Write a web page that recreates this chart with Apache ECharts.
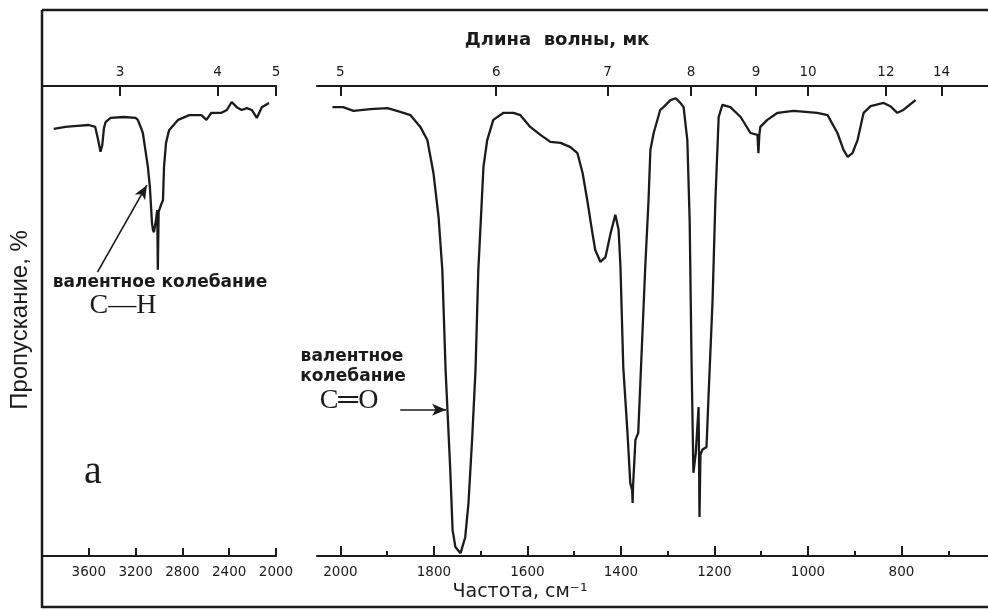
<!DOCTYPE html>
<html>
<head>
<meta charset="utf-8">
<script src="https://cdn.jsdelivr.net/npm/echarts@6/dist/echarts.min.js"></script>
<style>
html,body{margin:0;padding:0;background:#fff;}
#chart{width:988px;height:610px;}
</style>
</head>
<body>
<div id="chart"></div>
<script>
// ---- Data (wavenumber, cm^-1  /  transmission, %) ----
const nuLeft = [3900,3800,3700,3600,3545,3520,3500,3485,3470,3457,3414,3300,3200,3181,3160,3138,3095,3078,3060,3052,3043,3026,3015,3010,3008,3003,2983,2966,2957,2940,2914,2836,2741,2638,2595,2552,2466,2420,2379,2336,2293,2250,2207,2164,2121,2060];
const tLeft  = [90.9,91.3,91.5,91.7,91.3,88.5,86.0,87.4,91.1,92.3,93.2,93.4,93.2,92.8,91.5,90.0,82.8,78.5,70.9,69.4,68.9,71.5,73.6,60.9,60.9,73.2,74.7,75.7,82.8,87.9,90.6,92.8,93.8,93.8,92.8,94.3,94.3,94.9,96.6,95.5,94.9,95.3,94.9,93.2,95.5,96.4];

const nuRight = [2017,1994,1972,1936,1899,1872,1850,1829,1814,1801,1790,1782,1775,1771,1765,1760,1754,1743,1733,1726,1718,1711,1705,1701,1694,1686,1673,1651,1630,1615,1594,1572,1551,1529,1508,1493,1482,1472,1461,1455,1444,1433,1422,1412,1405,1401,1395,1386,1380,1376,1375,1374,1369,1363,1354,1348,1341,1337,1330,1316,1309,1294,1283,1273,1266,1258,1253,1251,1249,1245,1240,1236,1234,1233,1232,1230,1226,1217,1213,1204,1198,1191,1183,1166,1144,1123,1108,1106,1104,1102,1087,1065,1031,980,958,937,924,915,905,894,881,866,838,824,809,796,770];
const tRight  = [95.5,95.5,94.7,95.1,95.3,94.5,93.8,91.3,88.5,81.5,72.1,60.9,39.6,31.1,18.3,5.5,1.9,0.6,4.0,11.3,25.3,39.6,60.9,68.7,82.8,88.5,92.8,94.3,94.3,93.8,91.3,89.6,88.1,87.9,87.0,85.7,81.5,75.7,68.7,65.1,62.6,63.6,68.7,72.6,69.4,61.5,40.2,26.2,15.5,14.0,11.3,15.1,24.7,26.2,47.4,61.5,75.7,86.4,90.0,94.9,95.5,97.0,97.4,96.4,95.5,88.5,71.3,56.4,41.5,17.7,21.9,21.5,31.7,21.5,8.3,21.5,22.6,23.2,33.2,54.5,75.7,93.4,96.0,95.5,93.4,90.0,89.6,85.7,89.6,91.3,92.8,94.3,94.7,94.3,93.8,90.0,86.4,84.9,85.7,88.5,94.3,95.7,96.4,95.7,94.3,94.9,97.0];

// tick labels
const freqLeftTicks = [3600,3200,2800,2400,2000];
const freqRightMajor = [2000,1800,1600,1400,1200,1000,800];
const freqRightMinor = [1900,1700,1500,1300,1100,900,700];
const waveLeft = [3,4,5];           // micrometres
const waveRight = [5,6,7,8,9,10,12,14];

// annotation arrows (data coordinates)
const arrowCH = [[3526,60.4],[3104,78.9]];
const arrowCO = [[1872,31.1],[1774,31.1]];

const ink = '#1b1b1b';
const toNu = l => 10000 / l;

function pairs(xs, ys){ return xs.map((x,i)=>[x, ys[i]]); }

const chart = echarts.init(document.getElementById('chart'), null, {renderer:'canvas'});

const tickLabel = {color: ink, fontFamily: 'DejaVu Sans', fontSize: 13.5};

const option = {
  animation: false,
  backgroundColor: '#fff',
  grid: [
    {left: 42, top: 86, width: 234, height: 470},
    {left: 317, top: 86, width: 671, height: 470},
    {left: 317, top: 86, width: 671, height: 470}
  ],
  xAxis: [
    { // left bottom (frequency)
      gridIndex: 0, type: 'value', position: 'bottom', inverse: true, min: 2000, max: 4000,
      axisLine: {show: true, onZero: false, lineStyle: {color: ink, width: 2}},
      axisTick: {show: true, inside: true, length: 8, customValues: freqLeftTicks, lineStyle: {color: ink, width: 2}},
      axisLabel: Object.assign({margin: 9, customValues: freqLeftTicks, formatter: v => String(v)}, tickLabel),
      splitLine: {show: false}
    },
    { // left top (wavelength)
      gridIndex: 0, type: 'value', position: 'top', inverse: true, min: 2000, max: 4000,
      axisLine: {show: true, onZero: false, lineStyle: {color: ink, width: 2}},
      axisTick: {show: true, inside: true, length: 10, customValues: waveLeft.map(toNu), lineStyle: {color: ink, width: 2}},
      axisLabel: Object.assign({margin: 7, customValues: waveLeft.map(toNu), formatter: v => String(Math.round(10000 / v))}, tickLabel),
      splitLine: {show: false}
    },
    { // right bottom (frequency) major
      gridIndex: 1, type: 'value', position: 'bottom', inverse: true, min: 615, max: 2050,
      axisLine: {show: true, onZero: false, lineStyle: {color: ink, width: 2}},
      axisTick: {show: true, inside: true, length: 10, customValues: freqRightMajor, lineStyle: {color: ink, width: 2}},
      axisLabel: Object.assign({margin: 9, customValues: freqRightMajor, formatter: v => String(v)}, tickLabel),
      splitLine: {show: false}
    },
    { // right top (wavelength)
      gridIndex: 1, type: 'value', position: 'top', inverse: true, min: 615, max: 2050,
      axisLine: {show: true, onZero: false, lineStyle: {color: ink, width: 2}},
      axisTick: {show: true, inside: true, length: 10, customValues: waveRight.map(toNu), lineStyle: {color: ink, width: 2}},
      axisLabel: Object.assign({margin: 7, customValues: waveRight.map(toNu), formatter: v => String(Math.round(10000 / v))}, tickLabel),
      splitLine: {show: false}
    },
    { // right bottom minor ticks
      gridIndex: 2, type: 'value', position: 'bottom', inverse: true, min: 615, max: 2050,
      axisLine: {show: false, onZero: false},
      axisTick: {show: true, inside: true, length: 5, customValues: freqRightMinor, lineStyle: {color: ink, width: 2}},
      axisLabel: {show: false},
      splitLine: {show: false}
    }
  ],
  yAxis: [
    {gridIndex: 0, type: 'value', min: 0, max: 100, show: false},
    {gridIndex: 1, type: 'value', min: 0, max: 100, show: false},
    {gridIndex: 2, type: 'value', min: 0, max: 100, show: false}
  ],
  series: [
    {
      type: 'line', xAxisIndex: 0, yAxisIndex: 0, data: pairs(nuLeft, tLeft),
      showSymbol: false, lineStyle: {color: ink, width: 2.3}, silent: true,
      markLine: {
        silent: true, symbol: ['none', 'arrow'], symbolSize: [9, 14],
        lineStyle: {color: ink, width: 1.6, type: 'solid'}, label: {show: false},
        data: [[{coord: arrowCH[0]}, {coord: arrowCH[1]}]]
      }
    },
    {
      type: 'line', xAxisIndex: 2, yAxisIndex: 1, data: pairs(nuRight, tRight),
      showSymbol: false, lineStyle: {color: ink, width: 2.3}, silent: true,
      markLine: {
        silent: true, symbol: ['none', 'arrow'], symbolSize: [9, 14],
        lineStyle: {color: ink, width: 1.6, type: 'solid'}, label: {show: false},
        data: [[{coord: arrowCO[0]}, {coord: arrowCO[1]}]]
      }
    }
  ],
  graphic: [
    // frame
    {type: 'line', shape: {x1: 42, y1: 10, x2: 988, y2: 10}, style: {stroke: ink, lineWidth: 2.5}},
    {type: 'line', shape: {x1: 42, y1: 10, x2: 42, y2: 608}, style: {stroke: ink, lineWidth: 2.5}},
    {type: 'line', shape: {x1: 42, y1: 607, x2: 988, y2: 607}, style: {stroke: ink, lineWidth: 2.5}},
    // titles
    {type: 'text', x: 557, y: 40, style: {text: 'Длина  волны, мк', fill: ink, font: 'bold 18px "DejaVu Sans"', align: 'center', verticalAlign: 'middle'}},
    {type: 'text', x: 520, y: 592, style: {text: 'Частота, см⁻¹', fill: ink, font: '19px "DejaVu Sans"', align: 'center', verticalAlign: 'middle'}},
    {type: 'text', x: 20, y: 320, rotation: Math.PI / 2, style: {text: 'Пропускание, %', fill: ink, font: '24px "Liberation Sans"', align: 'center', verticalAlign: 'middle'}},
    // annotations
    {type: 'text', x: 160, y: 283, style: {text: 'валентное колебание', fill: ink, font: 'bold 17px "DejaVu Sans"', align: 'center', verticalAlign: 'middle'}},
    {type: 'text', x: 123, y: 306, style: {text: 'C—H', fill: ink, font: '28px "Liberation Serif"', align: 'center', verticalAlign: 'middle'}},
    {type: 'text', x: 352, y: 357, style: {text: 'валентное', fill: ink, font: 'bold 17px "DejaVu Sans"', align: 'center', verticalAlign: 'middle'}},
    {type: 'text', x: 353, y: 377, style: {text: 'колебание', fill: ink, font: 'bold 17px "DejaVu Sans"', align: 'center', verticalAlign: 'middle'}},
    {type: 'text', x: 349, y: 401, style: {text: 'C═O', fill: ink, font: '28px "Liberation Serif"', align: 'center', verticalAlign: 'middle'}},
    {type: 'text', x: 93, y: 472, style: {text: 'a', fill: ink, font: '40px "Liberation Serif"', align: 'center', verticalAlign: 'middle'}}
  ]
};
chart.setOption(option);
</script>
</body>
</html>
